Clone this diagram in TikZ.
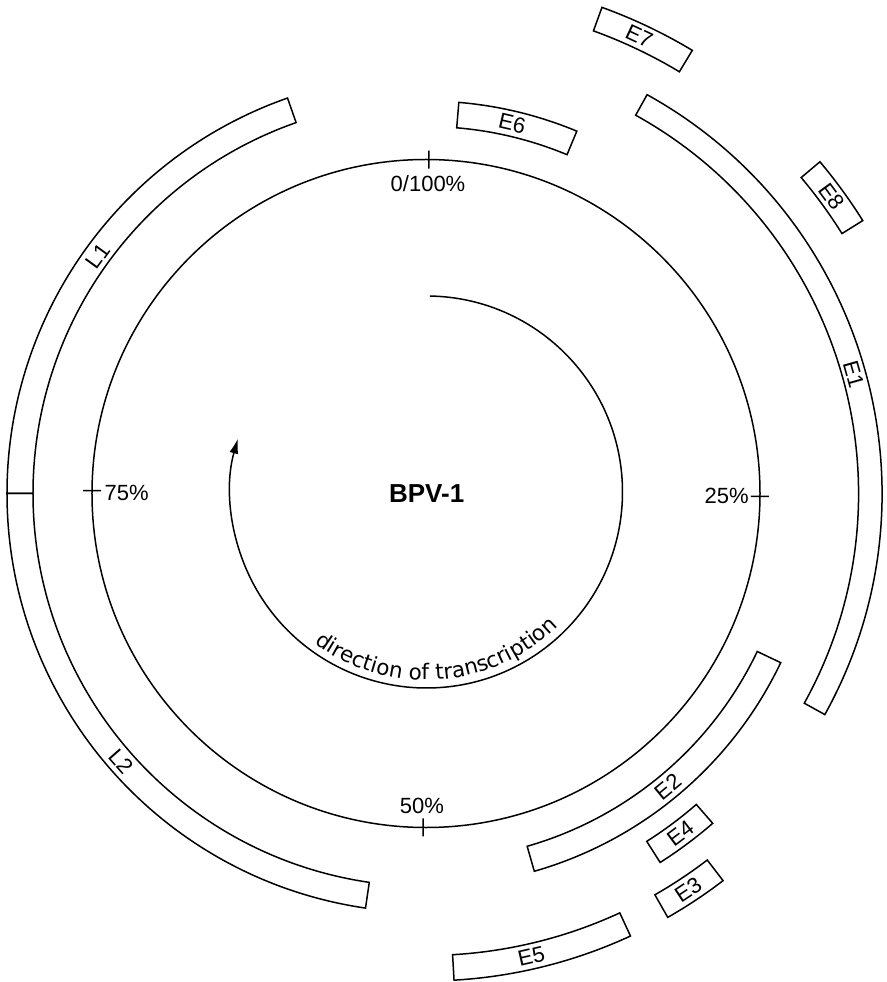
\documentclass[tikz,border=0pt]{standalone}
\usepackage{fontspec}
\setmainfont{Liberation Sans}
\newfontfamily\dirfont{DejaVu Sans}
\usetikzlibrary{arrows.meta,decorations.text}
\newcommand\AnnSeg[4]{%
  \draw[segline] (#1:#3pt) arc[start angle=#1, end angle=#2, radius=#3pt]
    -- (#2:#4pt) arc[start angle=#2, end angle=#1, radius=#4pt] -- cycle;}
\begin{document}
\begin{tikzpicture}[x=1pt,y=1pt,
  segline/.style={draw=black, line width=1.5pt, line join=miter},
  mainline/.style={draw=black, line width=1.5pt},
  lab/.style={font=\fontsize{22}{26}\selectfont, inner sep=0pt},
  pct/.style={font=\fontsize{22}{26}\selectfont, inner sep=0pt}]
\useasboundingbox (-426,-488.5) rectangle (460,493.5);
\coordinate (O) at (0,0);
% main circle
\draw[mainline] (O) circle[radius=334pt];
% ticks
\draw[mainline] (89.5:325pt) -- (89.5:343pt);
\draw[mainline] (-0.5:325pt) -- (-0.5:343pt);
\draw[mainline] (-90.5:325pt) -- (-90.5:343pt);
\draw[mainline] (179.5:325pt) -- (179.5:343pt);
\node[pct] (p0) at (2,310.2) {0/100\%};
\node[pct] (p25) at (300.7,-2.2) {25\%};
\node[pct] (p50) at (-4,-312.5) {50\%};
\node[pct] (p75) at (-299.3,0.5) {75\%};
% centre label
\node[font=\bfseries\fontsize{26}{30}\selectfont, inner sep=0pt] (bpv) at (0.7,-0.5) {BPV-1};
% inner arrow and text
\begin{scope}[shift={(0.5,1.5)}]
  \coordinate (astart) at (89:196pt);
  \draw[mainline, -{Latex[length=15pt,width=9pt]}] (astart) arc[start angle=89, end angle=-195.8, radius=196pt];
  \path[decorate, decoration={text along path, text align=center,
      text={|\dirfont\fontsize{21.5}{26}\selectfont|direction of transcription}}]
      (-150:188pt) arc[start angle=-150, end angle=-22, radius=188pt];
\end{scope}
% outer segments
\AnnSeg{67.4}{85.2}{367}{392.5}   % E6
\AnnSeg{-74}{-25.5}{367}{393}     % E2
\AnnSeg{109.3}{180}{393}{419}     % L1
\AnnSeg{180}{261.7}{393}{419}     % L2
\AnnSeg{-57.6}{-49}{412}{437}     % E4
\AnnSeg{-29}{61}{432.5}{456}      % E1
\AnnSeg{-60.3}{-52.5}{462}{488}   % E3
\AnnSeg{-86.7}{-65.2}{462}{487.5} % E5
\AnnSeg{59}{70.1}{492}{517}       % E7
\AnnSeg{32}{40.1}{490.5}{515}     % E8
% segment labels
\node[lab, rotate=54.1] (lL1) at (144.1:405pt) {L1};
\node[lab, rotate=311.3] (lL2) at (221.3:406pt) {L2};
\node[lab, rotate=-74.4] (lE1) at (15.6:444pt) {E1};
\node[lab, rotate=39.5] (lE2) at (-50.5:380pt) {E2};
\node[lab, rotate=33.5] (lE3) at (-56.5:475pt) {E3};
\node[lab, rotate=36.8] (lE4) at (-53.2:424.5pt) {E4};
\node[lab, rotate=12.8] (lE5) at (-77.2:475pt) {E5};
\node[lab, rotate=-13.1] (lE6) at (76.9:380pt) {E6};
\node[lab, rotate=-25] (lE7) at (65:504.5pt) {E7};
\node[lab, rotate=-53.8] (lE8) at (36.2:503pt) {E8};
\end{tikzpicture}
\end{document}
